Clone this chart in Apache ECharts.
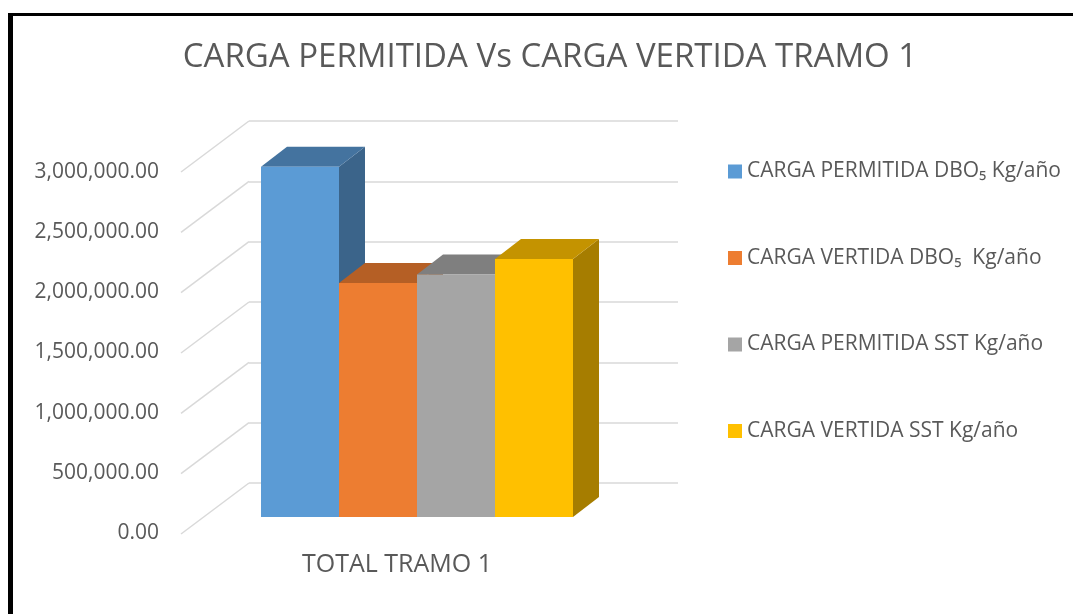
<!DOCTYPE html>
<html>
<head>
<meta charset="utf-8">
<script src="https://cdn.jsdelivr.net/npm/echarts@6/dist/echarts.min.js"></script>
<style>
html, body { margin: 0; padding: 0; background: #fff; }
#main { width: 1073px; height: 614px; }
</style>
</head>
<body>
<div id="main"></div>
<script>
const categories = ['TOTAL TRAMO 1']
const seriesNames = ['CARGA PERMITIDA DBO₅ Kg/año', 'CARGA VERTIDA DBO₅  Kg/año', 'CARGA PERMITIDA SST Kg/año', 'CARGA VERTIDA SST Kg/año']
const values = [2910000, 1945000, 2015000, 2145000]
const yTicks = [0, 500000, 1000000, 1500000, 2000000, 2500000, 3000000]

// faces of the 3d columns
const frontColors = ['#5b9bd5', '#ed7d31', '#a5a5a5', '#ffc000']
const topColors = ['#44739f', '#b55f25', '#7f7f7f', '#c49300']
const sideColors = ['#3b648a', '#9c5220', '#6e6e6e', '#a67d00']
const DX = 26
const DY = -20
const textColor = '#595959'
const font = 'Open Sans'

const chart = echarts.init(document.getElementById('main'))

function barItem (i) {
  return function (params, api) {
    const base = api.coord([api.value(0), 0])
    const tip = api.coord([api.value(0), api.value(1)])
    const band = api.size([1, 0])[0]
    const w = band / seriesNames.length
    const x0 = base[0] - band / 2 + i * w
    const x1 = x0 + w
    const yb = base[1]
    const yt = tip[1]
    return {
      type: 'group',
      children: [
        { type: 'polygon', shape: { points: [[x1, yt], [x1 + DX, yt + DY], [x1 + DX, yb + DY], [x1, yb]] }, style: { fill: sideColors[i] } },
        { type: 'polygon', shape: { points: [[x0, yt], [x1, yt], [x1 + DX, yt + DY], [x0 + DX, yt + DY]] }, style: { fill: topColors[i] } },
        { type: 'rect', shape: { x: x0, y: yt, width: w, height: yb - yt }, style: { fill: frontColors[i] } }
      ]
    }
  }
}

const barSeries = seriesNames.map((name, i) => ({
  name: name,
  type: 'custom',
  xAxisIndex: 1,
  yAxisIndex: 1,
  z: 3 + i,
  itemStyle: { color: frontColors[i] },
  renderItem: barItem(i),
  data: [[categories[0], values[i]]]
}))

// side wall lines going from the back wall to the front
const wallSeries = {
  type: 'custom',
  xAxisIndex: 0,
  yAxisIndex: 0,
  silent: true,
  z: 1,
  renderItem: function (params, api) {
    const y = api.coord([0, api.value(1)])[1]
    const x = params.coordSys.x
    return {
      type: 'line',
      shape: { x1: x, y1: y, x2: x - 68, y2: y + 51 },
      style: { stroke: '#d9d9d9', lineWidth: 1.5 }
    }
  },
  data: yTicks.map(v => [categories[0], v])
}

const yBase = { type: 'value', min: 0, max: 3000000, interval: 500000 }

chart.setOption({
  animation: false,
  title: {
    text: 'CARGA PERMITIDA Vs CARGA VERTIDA TRAMO 1',
    left: 550,
    textAlign: 'center',
    top: 41,
    padding: 0,
    textStyle: { fontFamily: font, fontSize: 33, fontWeight: 'normal', color: textColor }
  },
  legend: {
    data: seriesNames,
    orient: 'vertical',
    left: 728,
    top: 161,
    padding: 0,
    icon: 'rect',
    itemWidth: 14,
    itemHeight: 14,
    itemGap: 65.5,
    selectedMode: false,
    textStyle: { fontFamily: font, fontSize: 21, lineHeight: 20, color: textColor }
  },
  graphic: [
    { type: 'rect', shape: { x: 8, y: 13, width: 5, height: 601 }, style: { fill: '#000' } },
    { type: 'rect', shape: { x: 8, y: 13, width: 1065, height: 3 }, style: { fill: '#000' } }
  ],
  grid: [
    { left: 249, top: 121, width: 429, height: 362 },
    { left: 261, top: 156, width: 312, height: 361 },
    { left: 181, top: 172, width: 432, height: 361 }
  ],
  xAxis: [
    { type: 'category', gridIndex: 0, data: categories, show: false },
    { type: 'category', gridIndex: 1, data: categories, show: false },
    {
      type: 'category',
      gridIndex: 2,
      data: categories,
      axisLine: { show: false },
      axisTick: { show: false },
      axisLabel: { margin: 19, fontFamily: font, fontSize: 25, color: textColor }
    }
  ],
  yAxis: [
    Object.assign({}, yBase, {
      gridIndex: 0,
      axisLabel: { show: false },
      axisLine: { show: false },
      axisTick: { show: false },
      splitLine: { lineStyle: { color: '#d9d9d9', width: 1.5 } }
    }),
    Object.assign({}, yBase, { gridIndex: 1, show: false, splitLine: { show: false } }),
    Object.assign({}, yBase, {
      gridIndex: 2,
      axisLine: { show: false },
      axisTick: { show: false },
      splitLine: { show: false },
      axisLabel: {
        margin: 22,
        fontFamily: font,
        fontSize: 21,
        color: textColor,
        formatter: v => v.toLocaleString('en-US', { minimumFractionDigits: 2, maximumFractionDigits: 2 })
      }
    })
  ],
  series: [wallSeries].concat(barSeries)
})
</script>
</body>
</html>
